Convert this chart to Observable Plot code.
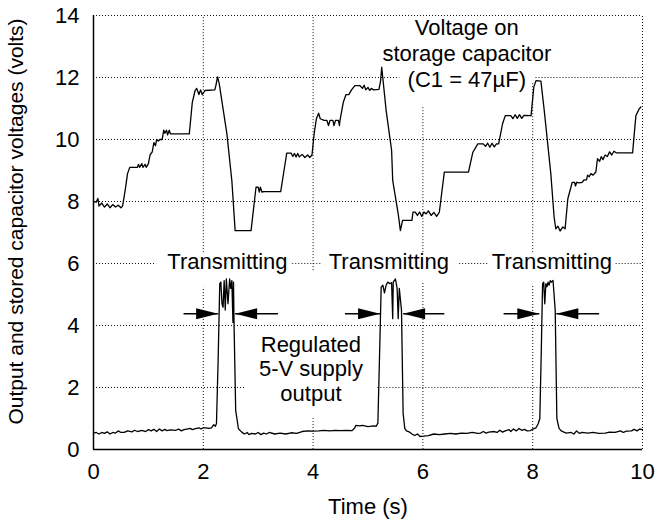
<!DOCTYPE html>
<html><head><meta charset="utf-8">
<script src="https://cdn.jsdelivr.net/npm/d3@7"></script>
<script src="https://cdn.jsdelivr.net/npm/@observablehq/plot@0.6"></script>
<style>body{margin:0;background:#fff} svg{display:block}</style>
</head><body><div id="chart"></div>
<script>
// Time (s), volts
const capacitorVoltage = [
[0,8.0],[0.05,7.98],[0.08,8.1],[0.1,7.85],[0.15,7.95],[0.2,7.82],[0.25,7.92],[0.3,7.8],[0.35,7.9],[0.4,7.82],[0.45,7.88],[0.5,7.8],[0.53,7.85],
[0.58,8.4],[0.62,8.9],[0.66,9.1],[0.75,9.1],[0.8,9.1],[0.82,9.2],[0.84,9.1],[0.88,9.22],[0.9,9.1],[0.94,9.2],[0.96,9.1],[1.0,9.22],
[1.03,9.5],[1.07,9.6],[1.1,9.9],[1.13,9.8],[1.15,10.0],[1.18,9.95],[1.21,10.0],[1.25,10.0],[1.28,10.3],[1.3,10.2],[1.33,10.3],[1.35,10.15],[1.38,10.3],[1.4,10.18],[1.42,10.18],[1.745,10.18],
[1.8,11.2],[1.85,11.58],[1.88,11.65],[1.92,11.45],[1.95,11.6],[1.98,11.45],[2.03,11.58],[2.21,11.6],[2.23,11.75],[2.26,12.02],[2.29,11.8],
[2.43,10.18],[2.52,8.67],[2.58,7.06],[2.87,7.06],[2.96,8.46],[3.0,8.46],[3.02,8.3],[3.04,8.46],[3.07,8.3],[3.1,8.32],[3.41,8.32],
[3.47,9.0],[3.52,9.56],[3.6,9.56],[3.63,9.45],[3.66,9.55],[3.69,9.44],[3.72,9.55],[3.75,9.44],[3.8,9.52],[3.85,9.42],[3.9,9.5],[3.94,9.42],[3.98,9.5],
[4.02,10.2],[4.06,10.67],[4.1,10.85],[4.13,10.67],[4.2,10.62],[4.25,10.62],[4.28,10.45],[4.31,10.62],[4.36,10.62],[4.38,10.45],[4.41,10.62],[4.46,10.62],[4.48,10.45],[4.49,10.62],
[4.55,11.2],[4.6,11.45],[4.65,11.45],[4.7,11.6],[4.76,11.74],[4.85,11.74],[4.9,11.65],[4.93,11.75],[4.96,11.6],[5.0,11.68],[5.03,11.58],[5.06,11.65],[5.1,11.6],[5.2,11.62],
[5.23,11.9],[5.25,12.33],[5.33,10.94],[5.43,9.65],[5.45,8.68],[5.55,7.6],[5.59,7.06],[5.63,7.39],[5.8,7.39],[5.82,7.66],[5.86,7.66],[5.9,7.55],[5.94,7.66],[5.98,7.52],[6.02,7.66],[6.06,7.6],[6.1,7.7],[6.15,7.55],[6.2,7.65],[6.25,7.52],[6.3,7.66],
[6.39,8.95],[6.83,8.95],[6.91,9.59],[7.0,9.86],[7.1,9.86],[7.14,9.78],[7.18,9.88],[7.22,9.75],[7.26,9.88],[7.3,9.76],[7.34,9.86],[7.38,9.86],
[7.45,10.5],[7.5,10.77],[7.6,10.77],[7.64,10.67],[7.68,10.8],[7.72,10.68],[7.76,10.8],[7.8,10.68],[7.84,10.78],[7.97,10.77],
[8.02,11.69],[8.06,11.9],[8.15,11.88],[8.21,10.94],[8.33,8.9],[8.39,7.5],[8.42,7.12],[8.46,7.2],[8.5,7.05],[8.55,7.18],[8.59,7.12],
[8.64,8.09],[8.72,8.62],[8.76,8.62],[8.78,8.5],[8.8,8.62],[8.85,8.6],[8.9,8.62],[8.94,8.7],[8.98,8.7],[9.0,8.85],[9.03,8.8],[9.06,8.9],[9.1,8.85],[9.15,8.95],
[9.18,9.38],[9.22,9.3],[9.25,9.45],[9.28,9.35],[9.32,9.5],[9.36,9.45],[9.4,9.6],[9.44,9.5],[9.48,9.62],[9.52,9.57],[9.82,9.57],
[9.85,10.18],[9.88,10.77],[9.94,10.99],[9.97,11.05]
];
const supplyOutput = [
[0,0.53],[0.05,0.55],[0.1,0.5],[0.15,0.55],[0.2,0.52],[0.25,0.57],[0.3,0.5],[0.35,0.55],[0.4,0.53],[0.45,0.6],[0.5,0.55],[0.56,0.55],[0.62,0.6],[0.7,0.57],[0.75,0.62],[0.8,0.58],[0.88,0.62],[0.95,0.58],[1.0,0.64],[1.05,0.6],[1.1,0.65],[1.15,0.58],[1.2,0.66],[1.25,0.6],[1.3,0.65],[1.34,0.61],[1.4,0.63],[1.5,0.62],[1.55,0.66],[1.6,0.6],[1.65,0.64],[1.7,0.66],[1.76,0.68],[1.8,0.64],[1.86,0.67],[1.92,0.7],[1.96,0.66],[2.0,0.7],[2.05,0.7],[2.1,0.68],[2.15,0.7],[2.19,0.8],[2.22,0.75],
[2.24,0.84],[2.27,2.87],[2.3,5.35],[2.32,5.4],[2.34,4.7],[2.36,4.59],[2.38,5.45],[2.4,4.5],[2.42,5.5],[2.45,4.7],[2.48,5.5],[2.5,5.2],[2.52,5.45],[2.54,4.1],[2.55,5.4],[2.56,4.05],[2.59,1.26],[2.64,0.67],
[2.7,0.56],[2.75,0.5],[2.8,0.55],[2.83,0.48],[2.88,0.52],[2.95,0.5],[3.0,0.55],[3.05,0.48],[3.1,0.53],[3.15,0.5],[3.2,0.55],[3.3,0.5],[3.4,0.53],[3.5,0.5],[3.6,0.54],[3.7,0.52],[3.8,0.58],[3.9,0.6],[4.0,0.59],[4.1,0.6],[4.2,0.62],[4.3,0.6],[4.4,0.62],[4.5,0.61],[4.6,0.62],[4.71,0.61],[4.76,0.7],[4.78,0.78],[4.85,0.76],[4.9,0.78],[5.0,0.74],[5.1,0.76],[5.15,0.75],
[5.18,0.85],[5.21,3.0],[5.24,5.24],[5.27,5.3],[5.3,5.05],[5.33,5.3],[5.36,5.4],[5.4,5.35],[5.43,5.38],[5.45,4.22],[5.46,5.4],[5.5,5.5],[5.53,5.2],[5.55,4.22],[5.57,5.2],[5.61,4.49],[5.64,1.16],[5.67,0.68],
[5.7,0.6],[5.76,0.56],[5.8,0.5],[5.85,0.45],[5.9,0.5],[5.95,0.42],[6.01,0.43],[6.1,0.45],[6.2,0.5],[6.3,0.48],[6.4,0.5],[6.5,0.52],[6.6,0.5],[6.7,0.53],[6.8,0.52],[6.9,0.55],[7.0,0.52],[7.05,0.53],[7.1,0.58],[7.15,0.53],[7.2,0.56],[7.3,0.58],[7.35,0.55],[7.4,0.62],[7.45,0.56],[7.5,0.6],[7.57,0.64],[7.6,0.58],[7.65,0.66],[7.7,0.6],[7.75,0.68],[7.8,0.62],[7.85,0.65],[7.9,0.6],[7.96,0.61],[8.0,0.66],[8.06,0.7],[8.1,0.83],
[8.13,1.0],[8.16,3.5],[8.18,5.35],[8.2,5.4],[8.22,4.7],[8.24,5.35],[8.26,5.25],[8.28,5.4],[8.3,5.3],[8.32,5.45],[8.34,5.4],[8.37,5.45],[8.41,4.5],[8.44,1.0],[8.48,0.68],
[8.52,0.6],[8.57,0.56],[8.61,0.53],[8.7,0.55],[8.75,0.5],[8.8,0.6],[8.85,0.52],[8.9,0.55],[9.0,0.53],[9.1,0.55],[9.2,0.52],[9.32,0.53],[9.4,0.56],[9.5,0.55],[9.6,0.6],[9.65,0.55],[9.71,0.59],[9.8,0.6],[9.85,0.65],[9.9,0.6],[9.95,0.66],[10.0,0.64]
];
const xTicks = [0, 2, 4, 6, 8, 10];
const yTicks = [0, 2, 4, 6, 8, 10, 12, 14];
// dotted grid segments (gaps where labels sit)
const gridXSegments = [
  {x:2,y1:6.35,y2:14},{x:2,y1:0,y2:5.23},
  {x:4,y1:5.77,y2:14},{x:4,y1:0,y2:1.04},
  {x:6,y1:6.35,y2:11.04},{x:6,y1:0,y2:5.4},
  {x:8,y1:6.35,y2:11.8},{x:8,y1:0,y2:5.29},
  {x:10,y1:0,y2:14}
];
const gridYSegments = [
  {y:14,x1:0,x2:10},
  {y:12,x1:0,x2:5.58},{y:12,x1:8.06,x2:10},
  {y:10,x1:0,x2:10},{y:8,x1:0,x2:10},
  {y:6,x1:0,x2:1.15},{y:6,x1:3.63,x2:4.17},{y:6,x1:6.67,x2:7.2},{y:6,x1:9.52,x2:10},
  {y:4,x1:0,x2:10},
  {y:2,x1:0,x2:2.76},{y:2,x1:5.18,x2:10}
];
const transmitLabels = [{x:2.44,y:6.05,text:"Transmitting"},{x:5.38,y:6.05,text:"Transmitting"},{x:8.35,y:6.05,text:"Transmitting"}];
const arrows = [
  {x1:1.64,x2:2.27,y:4.38},{x1:3.36,x2:2.58,y:4.38},
  {x1:4.58,x2:5.22,y:4.38},{x1:6.39,x2:5.64,y:4.38},
  {x1:7.47,x2:8.12,y:4.38},{x1:9.21,x2:8.43,y:4.38}
];
const capLabel = {x:6.8, y:12.8, text:"Voltage on\nstorage capacitor\n(C1 = 47\u00B5F)"};
const supplyLabel = {x:3.96, y:2.61, text:"Regulated\n5-V supply\noutput"};
const xLabel = "Time (s)";
const yLabel = "Output and stored capacitor voltages (volts)";

const headRight = {draw(ctx){ctx.moveTo(0,0);ctx.lineTo(-22,-5.5);ctx.lineTo(-22,5.5);ctx.closePath();}};
const headLeft = {draw(ctx){ctx.moveTo(0,0);ctx.lineTo(22,-5.5);ctx.lineTo(22,5.5);ctx.closePath();}};

const font = "'Liberation Sans', Arial, Helvetica, sans-serif";
const chart = Plot.plot({
  width: 659, height: 520,
  marginLeft: 93, marginRight: 17, marginTop: 15, marginBottom: 71,
  style: {fontFamily: font, fontSize: "22px", color: "black", background: "white"},
  x: {domain: [0, 10]},
  y: {domain: [0, 14]},
  marks: [
    Plot.ruleX(gridXSegments, {x:"x", y1:"y1", y2:"y2", stroke:"#111", strokeWidth:1, strokeDasharray:"1,2"}),
    Plot.ruleY(gridYSegments, {y:"y", x1:"x1", x2:"x2", stroke:"#111", strokeWidth:1, strokeDasharray:"1,2"}),
    Plot.axisX({ticks: xTicks, tickSize: 0, tickPadding: 14, label: null, fontSize: 22}),
    Plot.axisY({ticks: yTicks, tickSize: 0, tickPadding: 14, label: null, fontSize: 22}),
    Plot.ruleX([0], {stroke:"black", strokeWidth:1.5}),
    Plot.ruleY([0], {stroke:"black", strokeWidth:1.5}),
    Plot.text(transmitLabels, {x:"x", y:"y", text:"text", fontSize:22, fill:"black"}),
    Plot.text([capLabel], {x:"x", y:"y", text:"text", fontSize:22, lineHeight:1.18, fill:"black"}),
    Plot.text([supplyLabel], {x:"x", y:"y", text:"text", fontSize:22, lineHeight:1.1, fill:"black"}),
    Plot.text([xLabel], {frameAnchor:"bottom", textAnchor:"middle", lineAnchor:"middle", dy:57, fontSize:22, fill:"black"}),
    Plot.text([yLabel], {frameAnchor:"left", textAnchor:"middle", lineAnchor:"middle", rotate:-90, dx:-77, dy:-11, fontSize:21, fill:"black"}),
    Plot.line(capacitorVoltage, {x:d=>d[0], y:d=>d[1], stroke:"black", strokeWidth:1.3}),
    Plot.line(supplyOutput, {x:d=>d[0], y:d=>d[1], stroke:"black", strokeWidth:1.3}),
    Plot.link(arrows, {x1:"x1", x2:"x2", y1:"y", y2:"y", stroke:"black", strokeWidth:1.5}),
    Plot.dot(arrows.filter(d=>d.x1<d.x2), {x:"x2", y:"y", symbol: headRight, fill:"black", stroke:"none"}),
    Plot.dot(arrows.filter(d=>d.x1>d.x2), {x:"x2", y:"y", symbol: headLeft, fill:"black", stroke:"none"})
  ]
});
document.getElementById("chart").appendChild(chart);
</script>
</body></html>
